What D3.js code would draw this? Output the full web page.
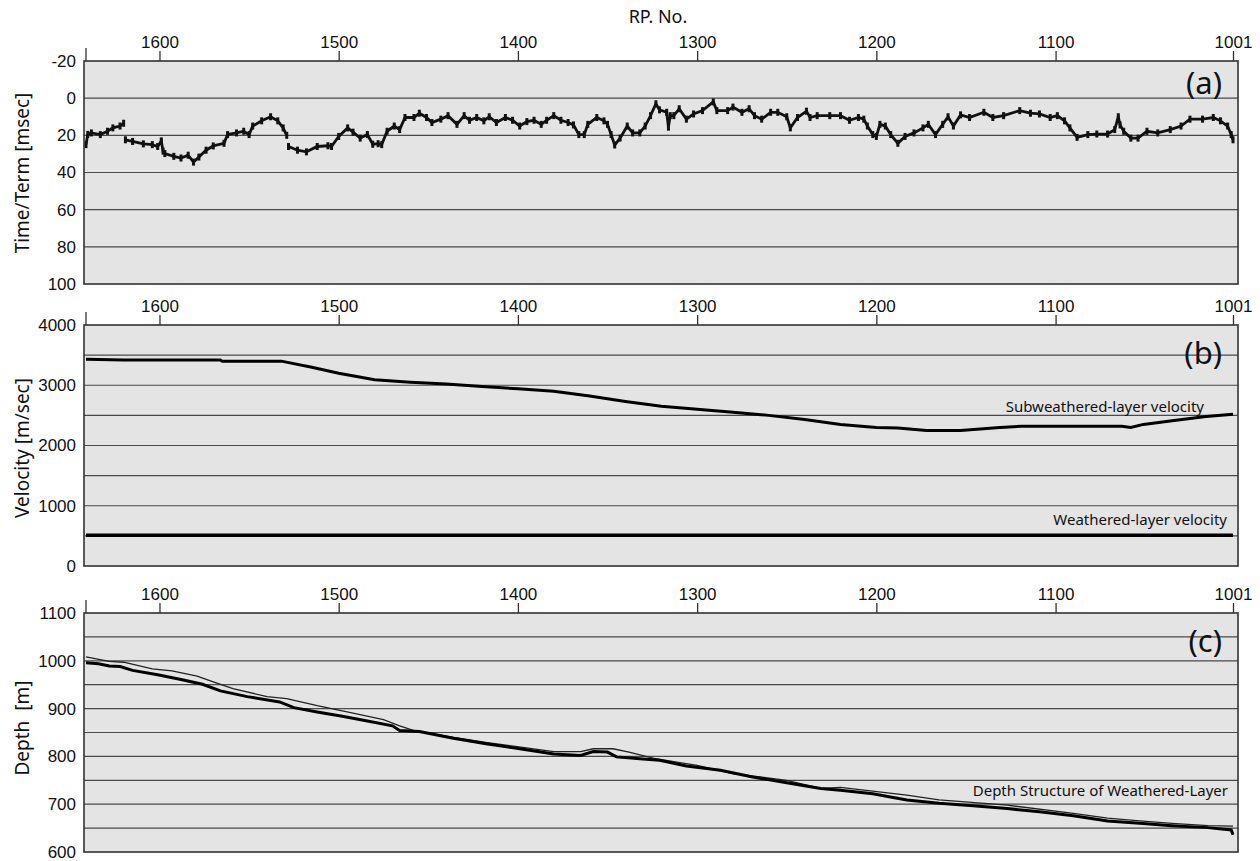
<!DOCTYPE html>
<html>
<head>
<meta charset="utf-8">
<script src="https://cdn.jsdelivr.net/npm/d3@7.9.0/dist/d3.min.js"></script>
<style>
  html, body { margin: 0; padding: 0; background: #fff; }
  svg { display: block; font-family: "Noto Sans", "DejaVu Sans", sans-serif; }
</style>
</head>
<body>
<svg id="chart" width="1260" height="861"></svg>
<script>
// RP numbers run from 1641 (left) down to 1001 (right)
const rpTicks = [1600, 1500, 1400, 1300, 1200, 1100, 1001];
const timeTicks = [-20, 0, 20, 40, 60, 80, 100];
const velTicks = [0, 1000, 2000, 3000, 4000];
const velGrid = [500, 1000, 1500, 2000, 2500, 3000, 3500];
const depthTicks = [600, 700, 800, 900, 1000, 1100];
const depthGrid = [650, 700, 750, 800, 850, 900, 950, 1000, 1050];

// (a) time term [msec]; null = gap in the record
const rpTerm = [1641, 1640, 1638, 1633, 1629, 1626, 1622, 1620, 1619.5, 1619, 1615, 1609, 1604, 1601, 1599, 1598, 1597, 1592, 1588, 1584, 1581, 1578, 1574, 1570, 1564, 1562, 1557, 1553, 1550, 1548, 1543, 1538, 1534, 1531, 1529, 1528.5, 1528, 1523, 1518, 1512, 1506, 1504, 1500, 1495, 1492, 1488, 1484, 1481, 1478, 1476, 1473, 1469, 1466, 1463, 1458, 1455, 1451, 1448, 1443, 1439, 1434, 1430, 1427, 1423, 1419, 1416, 1412, 1407, 1403, 1399, 1395, 1391, 1387, 1384, 1380, 1376, 1372, 1369, 1366, 1363, 1361, 1356, 1352, 1350, 1348, 1346, 1343, 1339, 1336, 1332, 1329, 1326, 1323, 1321, 1317, 1316, 1315, 1313, 1310, 1306, 1302, 1297, 1291, 1289, 1283, 1280, 1275, 1271, 1268, 1264, 1259, 1255, 1250, 1248, 1244, 1239, 1237, 1233, 1226, 1220, 1215, 1210, 1207, 1205, 1202, 1200, 1198, 1195, 1192, 1188, 1184, 1179, 1174, 1171, 1167, 1163, 1160, 1157, 1153, 1148, 1140, 1135, 1129, 1120, 1114, 1109, 1103, 1099, 1095, 1092, 1088, 1082, 1077, 1071, 1067, 1065, 1064, 1062, 1058, 1054, 1049, 1043, 1036, 1030, 1025, 1018, 1012, 1008, 1004, 1002, 1001];
const termTime = [25, 19.5, 18.7, 19.6, 17.8, 16, 15, 13.5, null, 22.4, 23.3, 24.6, 25, 26, 23, 28.5, 29.8, 31.3, 32.2, 30.7, 34.4, 31.7, 28, 25.7, 24.3, 19.6, 18.7, 17.8, 19.6, 15, 12.2, 10, 12.2, 16, 20, null, 26, 28, 28.9, 26, 25.6, 26, 20.6, 16, 18.3, 21.5, 19.6, 24.8, 24.5, 25, 17.8, 15, 16.9, 10.4, 10.4, 8.1, 10.4, 13.1, 11.3, 9.4, 14.1, 9.4, 11.9, 10.4, 12.2, 10, 13.1, 10.4, 11.9, 15, 12.6, 11.9, 14.1, 11.9, 9.4, 11.9, 13.1, 14.4, 19.6, 19.6, 14.1, 10.4, 12.2, 14.1, 19.6, 25.2, 21.5, 15, 18.7, 18.7, 15, 9.4, 3, 6.3, 7.6, 15.6, 9.4, 9.4, 5.7, 11.3, 8.5, 6.7, 2, 6.7, 6.7, 4.8, 7.6, 5.7, 9.4, 11.3, 7.6, 7.6, 10, 16, 10.4, 7, 10.4, 9.4, 9.4, 9.4, 11.9, 10.4, 11.3, 15, 19.6, 20.6, 14.1, 15, 19.6, 24.3, 20.6, 18.7, 16, 14.1, 19.6, 14.1, 10, 15, 9, 10.4, 7.6, 10.4, 9.4, 6.7, 8.1, 8.5, 10.4, 9.4, 12.2, 16, 21.1, 19.6, 19.3, 19.3, 16.9, 10, 14.4, 17.8, 21.5, 21.5, 17.8, 18.7, 16.9, 15, 11.3, 11.3, 10.4, 12.2, 15, 19.6, 22.4];

// (b) velocities [m/sec]
const rpSub = [1641, 1620, 1566, 1565, 1532, 1515, 1500, 1480, 1460, 1440, 1420, 1400, 1380, 1360, 1340, 1320, 1300, 1280, 1260, 1240, 1220, 1200, 1188, 1172, 1153, 1131, 1119, 1063, 1058, 1051, 1035, 1016, 1001];
const subVel = [3430, 3420, 3420, 3400, 3400, 3300, 3200, 3090, 3050, 3020, 2980, 2940, 2900, 2820, 2730, 2650, 2600, 2550, 2500, 2430, 2350, 2300, 2290, 2250, 2250, 2300, 2320, 2320, 2300, 2350, 2410, 2480, 2520];
const rpWeath = [1641, 1001];
const weathVel = [510, 510];

// (c) depth [m]: thick and thin curves
const rpDepthA = [1641, 1634, 1628, 1622, 1615, 1601, 1588, 1576, 1566, 1551, 1533, 1525, 1512, 1498, 1484, 1470, 1466, 1455, 1436, 1417, 1399, 1380, 1365, 1358, 1350, 1345, 1332, 1321, 1306, 1287, 1269, 1250, 1231, 1220, 1202, 1183, 1165, 1146, 1127, 1109, 1090, 1071, 1053, 1035, 1015, 1002, 1001];
const depthA = [996, 994, 989, 988, 980, 971, 961, 951, 937, 925, 914, 902, 893, 884, 874, 864, 854, 852, 838, 826, 816, 805, 802, 810, 809, 799, 795, 792, 780, 771, 757, 745, 733, 729, 722, 709, 702, 697, 691, 684, 676, 665, 660, 655, 651, 646, 636];
const rpDepthB = [1641, 1628, 1620, 1604, 1593, 1579, 1570, 1559, 1540, 1529, 1512, 1494, 1475, 1466, 1458, 1436, 1417, 1380, 1365, 1358, 1347, 1338, 1324, 1300, 1280, 1250, 1231, 1220, 1183, 1165, 1127, 1090, 1071, 1053, 1035, 1015, 1001];
const depthB = [1008, 999, 997, 983, 979, 968, 956, 942, 925, 921, 906, 892, 877, 864, 854, 840, 829, 810, 810, 816, 816, 809, 796, 781, 764, 750, 733, 735, 719, 709, 698, 681, 671, 665, 660, 655, 654];

const svg = d3.select("#chart");

const boxLeft = 84, boxRight = 1238;
const x = d3.scaleLinear().domain([1641, 1001]).range([86, 1233]);

function panel(opts) {
    const y = d3.scaleLinear().domain(opts.domain).range([opts.top, opts.bottom]);
    const g = svg.append("g");

    // background
    g.append("rect")
        .attr("x", boxLeft).attr("y", opts.top)
        .attr("width", boxRight - boxLeft).attr("height", opts.bottom - opts.top)
        .attr("fill", "#e4e4e4");

    // gridlines
    g.selectAll("line.grid")
        .data(opts.grid)
        .enter().append("line")
        .attr("class", "grid")
        .attr("x1", boxLeft).attr("x2", boxRight)
        .attr("y1", d => y(d)).attr("y2", d => y(d))
        .attr("stroke", "#4a4a4a").attr("stroke-width", 1.2);

    // top axis
    const ax = g.append("g")
        .attr("transform", `translate(0,${opts.top})`)
        .call(d3.axisTop(x).tickValues(rpTicks).tickSize(10).tickPadding(3).tickFormat(d => String(d)));
    ax.select(".domain").remove();
    ax.selectAll(".tick line").attr("stroke", "#333").attr("stroke-width", 1.3);
    ax.selectAll(".tick text").attr("fill", "#111").style("font-size", "17px");
    g.append("line")
        .attr("x1", x(1641)).attr("x2", x(1641))
        .attr("y1", opts.top - 13).attr("y2", opts.top)
        .attr("stroke", "#333").attr("stroke-width", 1.3);

    // left axis (labels only)
    const ay = g.append("g")
        .attr("transform", `translate(${boxLeft},0)`)
        .call(d3.axisLeft(y).tickValues(opts.ticks).tickSize(0).tickPadding(8).tickFormat(d => String(d)));
    ay.select(".domain").remove();
    ay.selectAll(".tick text").attr("fill", "#111").style("font-size", "17px");

    // y label
    g.append("text")
        .attr("transform", `translate(22,${opts.labelY}) rotate(-90)`)
        .attr("text-anchor", "middle")
        .attr("dominant-baseline", "central")
        .style("font-size", "19px")
        .attr("fill", "#111")
        .attr("xml:space", "preserve")
        .text(opts.label);

    // panel tag
    g.append("text")
        .attr("x", 1222).attr("y", opts.tagY)
        .attr("text-anchor", "end")
        .style("font-size", "31px")
        .attr("fill", "#111")
        .text(opts.tag);

    return { g, y };
}

// ---- (a)
svg.append("text")
    .attr("x", 658).attr("y", 23)
    .attr("text-anchor", "middle")
    .style("font-size", "18px")
    .attr("fill", "#111")
    .text("RP. No.");

const pa = panel({ top: 61, bottom: 284, domain: [-20, 100], ticks: timeTicks,
    grid: [0, 20, 40, 60, 80], label: "Time/Term [msec]", labelY: 173, tag: "(a)", tagY: 94 });

const termData = rpTerm.map((rp, i) => ({ rp, v: termTime[i] }));
pa.g.append("path")
    .datum(termData)
    .attr("fill", "none")
    .attr("stroke", "#111")
    .attr("stroke-width", 2.8)
    .attr("d", d3.line().defined(d => d.v !== null).x(d => x(d.rp)).y(d => pa.y(d.v)));
pa.g.selectAll("rect.pt")
    .data(termData.filter(d => d.v !== null))
    .enter().append("rect")
    .attr("class", "pt")
    .attr("x", d => x(d.rp) - 1.5)
    .attr("y", d => pa.y(d.v) - 3.5)
    .attr("width", 3).attr("height", 7)
    .attr("fill", "#111");

// ---- (b)
const pb = panel({ top: 325, bottom: 566, domain: [4000, 0], ticks: velTicks,
    grid: velGrid, label: "Velocity [m/sec]", labelY: 448, tag: "(b)", tagY: 364 });

pb.g.append("path")
    .datum(rpSub.map((rp, i) => ({ rp, v: subVel[i] })))
    .attr("fill", "none").attr("stroke", "#000").attr("stroke-width", 3)
    .attr("d", d3.line().x(d => x(d.rp)).y(d => pb.y(d.v)));
pb.g.append("path")
    .datum(rpWeath.map((rp, i) => ({ rp, v: weathVel[i] })))
    .attr("fill", "none").attr("stroke", "#000").attr("stroke-width", 3.5)
    .attr("d", d3.line().x(d => x(d.rp)).y(d => pb.y(d.v)));

pb.g.append("text")
    .attr("x", 1204).attr("y", 412).attr("text-anchor", "end")
    .style("font-size", "15px").attr("fill", "#111")
    .text("Subweathered-layer velocity");
pb.g.append("text")
    .attr("x", 1227).attr("y", 525).attr("text-anchor", "end")
    .style("font-size", "15px").attr("fill", "#111")
    .text("Weathered-layer velocity");

// ---- (c)
const pc = panel({ top: 613, bottom: 852, domain: [1100, 600], ticks: depthTicks,
    grid: depthGrid, label: "Depth  [m]", labelY: 728, tag: "(c)", tagY: 652 });

pc.g.append("path")
    .datum(rpDepthB.map((rp, i) => ({ rp, v: depthB[i] })))
    .attr("fill", "none").attr("stroke", "#222").attr("stroke-width", 1.3)
    .attr("d", d3.line().x(d => x(d.rp)).y(d => pc.y(d.v)));
pc.g.append("path")
    .datum(rpDepthA.map((rp, i) => ({ rp, v: depthA[i] })))
    .attr("fill", "none").attr("stroke", "#000").attr("stroke-width", 3)
    .attr("d", d3.line().x(d => x(d.rp)).y(d => pc.y(d.v)));

pc.g.append("text")
    .attr("x", 1228).attr("y", 796).attr("text-anchor", "end")
    .style("font-size", "15px").attr("fill", "#111")
    .text("Depth Structure of Weathered-Layer");

// frames on top
[[61, 284], [325, 566], [613, 852]].forEach(([t, b]) => {
    svg.append("rect")
        .attr("x", boxLeft).attr("y", t)
        .attr("width", boxRight - boxLeft).attr("height", b - t)
        .attr("fill", "none").attr("stroke", "#333").attr("stroke-width", 1.6);
});
</script>
</body>
</html>
